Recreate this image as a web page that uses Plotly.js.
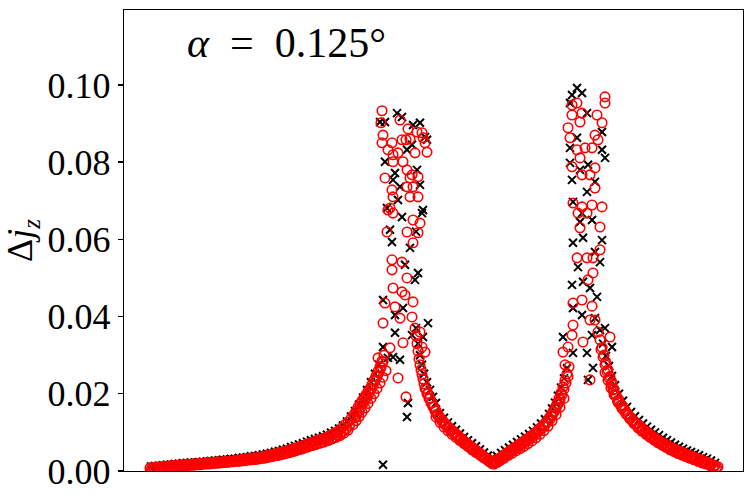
<!DOCTYPE html>
<html>
<head>
<meta charset="utf-8">
<script src="https://cdn.plot.ly/plotly-3.0.1.min.js"></script>
<style>
  html, body { margin: 0; padding: 0; background: #fff; }
  #chart { width: 753px; height: 502px; }
</style>
</head>
<body>
<div id="chart"></div>
<script>
// x is an arbitrary index along the path (no ticks shown), y is delta j_z

// red open circles: left branch (rows of the dense band)
var redLeftX = [0,3,6,9,12,15,18,21,24,27,30,33,36,39,42,45,48,51,54,57,60,63,66,69,72,75,78,81,84,87,90,93,96,99,102,105,108,111,114,117,120,123,126,129,132,135,138,141,144,147,150,153,156,159,162,165,168,171,174,177,180,183,186,189,192,195,198,201,204,206,208,210,212,214,216,218,220,222,224,226,228,230,232,234];
var redLeftY = [.0008,.0009,.0010,.0010,.0011,.0012,.0013,.0013,.0014,.0015,
  .0015,.0016,.0017,.0017,.0018,.0018,.0019,.0019,.0020,.0021,
  .0021,.0022,.0023,.0023,.0024,.0025,.0025,.0026,.0027,.0028,
  .0029,.0030,.0031,.0032,.0033,.0034,.0035,.0037,.0038,.0040,
  .0041,.0043,.0045,.0047,.0049,.0051,.0053,.0056,.0058,.0060,
  .0063,.0066,.0069,.0072,.0074,.0077,.0080,.0082,.0085,.0088,
  .0092,.0096,.0100,.0105,.0112,.0120,.0127,.0136,
  .0146,.0155,.0165,.0174,.0182,.0190,.0198,.0206,.0214,.0224,.0235,.0246,.0258,.0270,.0285,.0300];
var redLeft2X = [1.5,4.5,7.5,10.5,13.5,16.5,19.5,22.5,25.5,28.5,31.5,34.5,37.5,40.5,43.5,46.5,49.5,52.5,55.5,58.5,61.5,64.5,67.5,70.5,73.5,76.5,79.5,82.5,85.5,88.5,91.5,94.5,97.5,100.5,103.5,106.5,109.5,112.5,115.5,118.5,121.5,124.5,127.5,130.5,133.5,136.5,139.5,142.5,145.5,148.5,151.5,154.5,157.5,160.5,163.5,166.5,169.5,172.5,175.5,178.5,181.5,184.5,187.5,190.5,193.5,196.5,199.5,205,207,209,211,213,215,217,219,221,223,225,227,229,231,233];
var redLeft2Y = [.0006,.0007,.0008,.0008,.0009,.0010,.0010,.0011,.0012,.0012,
  .0013,.0014,.0014,.0015,.0015,.0016,.0016,.0017,.0018,.0018,
  .0019,.0020,.0020,.0021,.0022,.0022,.0023,.0024,.0025,.0025,
  .0026,.0027,.0028,.0029,.0030,.0031,.0032,.0033,.0034,.0036,
  .0037,.0039,.0040,.0042,.0044,.0046,.0048,.0050,.0052,.0055,
  .0057,.0060,.0062,.0065,.0067,.0070,.0072,.0075,.0078,.0081,
  .0084,.0088,.0092,.0097,.0103,.0110,.0118,
  .0138,.0147,.0156,.0165,.0174,.0183,.0192,.0201,.0211,.0221,.0232,.0243,.0255,.0268,.0282];
var redLeft3X = [102,106,110,114,118,122,126,130,134,138,142,146,150,154,158,162,166,170,174,178,182,186,190,194,198,203,206,209,212,215,218,221,224,227,230,233,236];
var redLeft3Y = [.0029,.0030,.0032,.0034,.0036,.0038,.0040,.0043,.0045,.0048,
  .0051,.0054,.0057,.0060,.0063,.0066,.0069,.0072,.0075,.0079,
  .0083,.0087,.0092,.0098,.0106,
  .0120,.0130,.0141,.0152,.0163,.0175,.0188,.0200,.0214,.0228,.0243,.0260];

// red: valley between the two peaks
var redMidX = [266,267,268,269,270,271,272,273,274,276,278,280,282,284,286,288,290,293,296,299,302,305,308,311,314,317,320,323,326,329,332,335,338,341,343,345,348,351,354,357,360,363,366,369,372,375,378,381,384,387,390,393,396,399,401,403,405,407,409,411,413,415,417,419];
var redMidY = [.0350,.0330,.0310,.0290,.0275,.0262,.0250,.0238,.0226,
  .0212,.0200,.0188,.0176,.0166,.0156,.0147,.0139,
  .0130,.0121,.0113,.0106,.0099,.0092,.0085,.0078,.0072,.0066,.0060,.0054,.0048,.0042,.0036,.0030,.0025,
  .0022,.0025,
  .0031,.0036,.0042,.0047,.0053,.0058,.0063,.0069,.0074,.0080,.0085,.0091,.0097,.0104,.0111,.0119,.0127,.0137,
  .0145,.0154,.0164,.0175,.0188,.0202,.0218,.0235,.0252,.0270];
var redMid2X = [275,277,279,281,283,285,287,289,291.5,294.5,297.5,300.5,303.5,306.5,309.5,312.5,315.5,318.5,321.5,324.5,327.5,330.5,333.5,336.5,339.5,342,344,346.5,349.5,352.5,355.5,358.5,361.5,364.5,367.5,370.5,373.5,376.5,379.5,382.5,385.5,388.5,391.5,394.5,397.5,400,402,404,406,408,410,412,414,416,418];
var redMid2Y = [.0214,.0200,.0188,.0176,.0166,.0156,.0147,.0139,
  .0130,.0121,.0113,.0105,.0098,.0091,.0084,.0077,.0071,.0065,.0059,.0053,.0047,.0041,.0035,.0030,.0024,
  .0019,.0018,
  .0023,.0029,.0034,.0040,.0045,.0051,.0056,.0061,.0067,.0072,.0078,.0083,.0089,.0095,.0102,.0109,.0117,.0126,
  .0134,.0143,.0152,.0162,.0173,.0185,.0198,.0212,.0228,.0245];
var redMid3X = [286,290,294,298,302,306,310,314,318,322,326,330,334,338,341,344,347,350,354,358,362,366,370,374,378,382,386,390,394,398,402,406,410,414];
var redMid3Y = [.0140,.0126,.0114,.0104,.0095,.0087,.0079,.0071,.0063,.0055,
  .0048,.0041,.0034,.0028,.0023,.0019,.0022,.0027,.0033,.0040,
  .0046,.0052,.0058,.0064,.0071,.0078,.0086,.0095,.0105,.0116,
  .0130,.0146,.0165,.0188];

// red: right branch
var redRightX = [448,450,452,454,456,458,460,462,464,466,469,472,475,478,481,484,487,490,493,496,499,502,505,508,511,514,517,520,523,526,529,532,535,538,541,544,547,550,553,556,559,562,565,568];
var redRightY = [.0360,.0340,.0320,.0300,.0280,.0262,.0245,.0228,.0212,.0198,
  .0183,.0170,.0158,.0147,.0138,.0130,.0123,.0116,.0109,.0103,
  .0097,.0091,.0086,.0081,.0076,.0071,.0067,.0063,.0059,.0055,
  .0052,.0048,.0045,.0042,.0039,.0036,.0033,.0030,.0027,.0024,
  .0021,.0018,.0014,.0011];
var redRight2X = [451,453,455,457,459,461,463,465,467.5,470.5,473.5,476.5,479.5,482.5,485.5,488.5,491.5,494.5,497.5,500.5,503.5,506.5,509.5,512.5,515.5,518.5,521.5,524.5,527.5,530.5,533.5,536.5,539.5,542.5,545.5,548.5,551.5,554.5,557.5,560.5,563.5,566.5];
var redRight2Y = [.0315,.0295,.0276,.0258,.0241,.0225,.0210,.0196,
  .0182,.0170,.0158,.0147,.0137,.0129,.0121,.0114,.0107,.0101,
  .0095,.0089,.0083,.0078,.0073,.0068,.0064,.0060,.0056,.0052,
  .0049,.0045,.0042,.0039,.0036,.0033,.0030,.0027,.0024,.0022,
  .0019,.0016,.0013,.0010];
var redRight3X = [455,458,461,464,468,472,476,480,484,488,492,496,500,504,508,512,516,520,524,528,532,536,540,544,548,552,556,560];
var redRight3Y = [.0255,.0235,.0215,.0198,.0178,.0162,.0148,.0135,.0123,.0112,
  .0103,.0095,.0087,.0080,.0073,.0067,.0061,.0055,.0050,.0045,
  .0041,.0037,.0033,.0029,.0025,.0021,.0018,.0014];

// red: scattered points around first peak
var redPeak1X = [232,231,250,233,232,242,252,258,260,256,267,272,273,275,277,265,238,243,248,253,243,235,257,262,260,268,263,257,242,243,268,260,240,238,243,263,270,237,257,268,263,242,252,242,257,243,252,255,263,235,245,250,233,262,265,270,240,253,228,272,275,248,256];
var redPeak1Y = [.0933,.0902,.0909,.0870,.0850,.0850,.0858,.0886,.0860,.0858,
  .0878,.0876,.0863,.0850,.0826,.0824,.0832,.0819,.0824,.0801,
  .0801,.0759,.0780,.0767,.0759,.0762,.0736,.0736,.0728,.0710,
  .0710,.0710,.0681,.0676,.0668,.0650,.0642,.0619,.0619,.0617,
  .0591,.0547,.0541,.0521,.0500,.0474,.0464,.0456,.0438,.0435,
  .0425,.0396,.0383,.0399,.0370,.0360,.0319,.0332,.0293,.0321,
  .0308,.0241,.0192];

// red: scattered points around second peak
var redPeak2X = [455,455,422,427,432,422,430,447,452,418,420,445,448,427,435,442,430,445,422,432,440,445,423,442,452,428,437,432,450,430,450,427,437,443,443,438,423,432,442,423,440,445,433,422,460,413,418,440,415];
var redPeak2Y = [.0969,.0953,.0948,.0953,.0927,.0922,.0904,.0922,.0902,.0889,
  .0863,.0870,.0858,.0832,.0837,.0837,.0811,.0785,.0788,.0767,
  .0767,.0733,.0694,.0689,.0684,.0668,.0668,.0684,.0632,.0630,
  .0573,.0552,.0552,.0552,.0513,.0495,.0435,.0443,.0427,.0378,
  .0391,.0391,.0334,.0352,.0347,.0308,.0321,.0236,.0275];

// black crosses: left branch
var blackLeftX = [1,5,9,13,17,21,25,29,33,37,41,45,49,53,57,61,65,69,73,77,81,85,89,93,97,101,105,109,113,117,121,125,129,133,137,141,145,149,153,157,161,165,169,173,177,181,185,189,193,197,201,205,209,213,217,221,225,229];
var blackLeftY = [.0012,.0013,.0014,.0015,.0016,.0017,.0018,.0019,.0020,.0021,
  .0022,.0022,.0023,.0024,.0025,.0026,.0027,.0028,.0029,.0030,
  .0031,.0032,.0034,.0035,.0036,.0038,.0039,.0041,.0043,.0045,
  .0047,.0050,.0052,.0055,.0058,.0062,.0065,.0069,.0072,.0076,
  .0080,.0083,.0086,.0090,.0094,.0099,.0104,.0110,.0118,.0128,
  .0141,.0155,.0172,.0190,.0210,.0230,.0252,.0275];

// black: valley
var blackMidX = [266,268,270,272,274,277,280,283,286,290,294,298,302,306,310,314,318,322,326,330,334,338,342,344,347,351,355,359,363,367,371,375,379,383,387,391,395,399,402,405,408,411,414,417];
var blackMidY = [.0370,.0330,.0300,.0275,.0252,.0230,.0210,.0192,.0176,
  .0150,.0138,.0126,.0116,.0107,.0097,.0088,.0080,.0072,.0064,.0056,.0048,.0040,.0034,
  .0032,
  .0039,.0047,.0054,.0061,.0068,.0075,.0082,.0089,.0096,.0104,.0113,.0123,.0134,
  .0148,.0162,.0177,.0195,.0216,.0240,.0266];

// black: right branch
var blackRightX = [450,453,456,459,462,465,469,473,477,481,485,489,493,497,501,505,509,513,517,521,525,529,533,537,541,545,549,553,557,561,565];
var blackRightY = [.0365,.0330,.0298,.0272,.0246,.0222,
  .0200,.0182,.0166,.0153,.0142,.0132,.0123,.0115,.0107,.0100,.0093,.0086,.0080,.0074,
  .0068,.0063,.0058,.0053,.0049,.0045,.0041,.0036,.0032,.0027,.0021];

// black: scattered points around first peak
var blackPeak1X = [247,252,230,235,270,263,275,277,257,262,235,245,267,270,250,243,273,237,272,252,242,260,268,265,233,253,245,278,245,262,273,233,243,250,238,258,257,233,248,255,240,266];
var blackPeak1Y = [.0927,.0917,.0904,.0904,.0902,.0896,.0865,.0858,.0832,.0845,
  .0801,.0772,.0780,.0741,.0736,.0754,.0676,.0681,.0668,.0658,
  .0593,.0578,.0513,.0495,.0443,.0422,.0404,.0383,.0358,.0352,
  .0347,.0321,.0295,.0288,.0293,.0176,.0140,.0016,.0702,.0534,.0625,.0620];

// black: scattered points around second peak
var blackPeak2X = [427,432,422,420,437,452,427,420,452,455,420,430,438,422,437,445,423,432,430,442,423,433,452,445,450,428,422,433,440,447,423,432,445,455,413,442,423,437,443,438,462];
var blackPeak2Y = [.0992,.0979,.0974,.0953,.0927,.0878,.0863,.0837,.0832,.0811,
  .0798,.0780,.0793,.0754,.0723,.0749,.0697,.0668,.0645,.0650,
  .0591,.0604,.0598,.0567,.0541,.0528,.0482,.0490,.0474,.0451,
  .0422,.0404,.0396,.0370,.0347,.0352,.0306,.0306,.0267,.0236,
  .0321];

var yTicks = [0, 0.02, 0.04, 0.06, 0.08, 0.10];
var labelText = '<i>α</i>\u2002=\u20020.125°';

var serif = 'Liberation Serif, Times New Roman, serif';

var blackTrace = {
    x: [].concat(blackLeftX, blackPeak1X, blackMidX, blackPeak2X, blackRightX),
    y: [].concat(blackLeftY, blackPeak1Y, blackMidY, blackPeak2Y, blackRightY),
    type: 'scatter',
    mode: 'markers',
    marker: {symbol: 'x-thin-open', size: 8, color: '#000', line: {width: 2, color: '#000'}},
    showlegend: false
};
var redTrace = {
    x: [].concat(redLeftX, redLeft2X, redLeft3X, redPeak1X, redMidX, redMid2X, redMid3X, redPeak2X, redRightX, redRight2X, redRight3X),
    y: [].concat(redLeftY, redLeft2Y, redLeft3Y, redPeak1Y, redMidY, redMid2Y, redMid3Y, redPeak2Y, redRightY, redRight2Y, redRight3Y),
    type: 'scatter',
    mode: 'markers',
    marker: {symbol: 'circle-open', size: 9.5, color: '#ff0000', line: {width: 1.6, color: '#ff0000'}},
    showlegend: false
};

var layout = {
    width: 753,
    height: 502,
    margin: {l: 124, r: 10, t: 10, b: 31, pad: 0},
    paper_bgcolor: '#fff',
    plot_bgcolor: '#fff',
    font: {family: serif, color: '#000'},
    xaxis: {
        range: [-26, 593],
        showticklabels: false,
        ticks: '',
        showgrid: false,
        zeroline: false,
        showline: true,
        mirror: true,
        linecolor: '#000',
        linewidth: 1.3
    },
    yaxis: {
        range: [0, 0.1194],
        tickvals: yTicks,
        tickformat: '.2f',
        ticks: 'outside',
        ticklen: 5,
        tickwidth: 1.3,
        tickcolor: '#000',
        tickfont: {family: serif, size: 36, color: '#000'},
        showgrid: false,
        zeroline: false,
        showline: true,
        mirror: true,
        linecolor: '#000',
        linewidth: 1.3,
        title: {text: 'Δ<i>j</i><sub><i>z</i></sub>', font: {family: serif, size: 36, color: '#000'}, standoff: 8}
    },
    annotations: [{
        xref: 'paper', yref: 'paper',
        x: 0.0985, y: 0.928,
        xanchor: 'left', yanchor: 'middle',
        text: labelText,
        showarrow: false,
        font: {family: serif, size: 42, color: '#000'}
    }]
};

Plotly.newPlot('chart', [blackTrace, redTrace], layout, {displayModeBar: false, staticPlot: true});
</script>
</body>
</html>
